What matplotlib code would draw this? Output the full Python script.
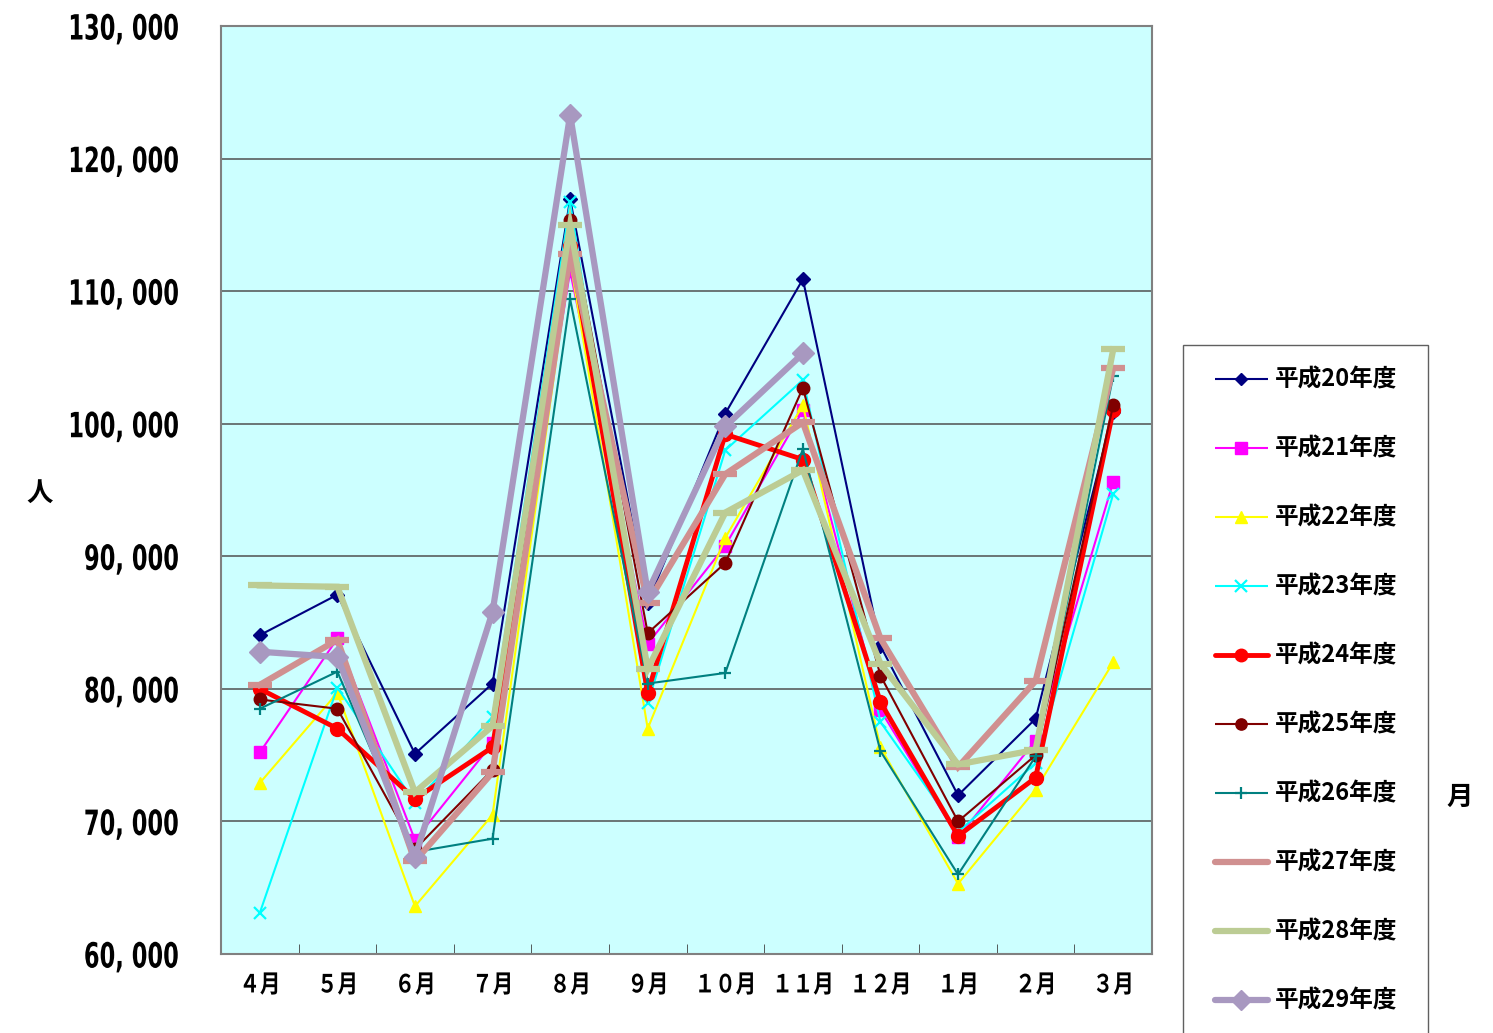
import matplotlib
matplotlib.use("Agg")
import matplotlib.pyplot as plt
from matplotlib.lines import Line2D
from matplotlib.patches import Rectangle
from matplotlib.patheffects import AbstractPathEffect
from matplotlib.transforms import Affine2D
from matplotlib.ticker import FixedLocator, FuncFormatter

months = ["４月", "５月", "６月", "７月", "８月", "９月", "１０月", "１１月", "１２月", "１月", "２月", "３月"]
series_names = ["平成20年度", "平成21年度", "平成22年度", "平成23年度", "平成24年度",
                "平成25年度", "平成26年度", "平成27年度", "平成28年度", "平成29年度"]

h20 = [84050, 87100, 75100, 80400, 116950, 86500, 100770, 110900, 83240, 71970, 77750, 100870]
h21 = [75200, 83800, 68600, 75900, 111500, 83400, 90800, 101000, 78400, 68800, 76100, 95600]
h22 = [72900, 79700, 63600, 70500, 112300, 77000, 91400, 101400, 75600, 65300, 72400, 82000]
h23 = [63100, 80100, 71400, 77900, 116700, 78900, 98000, 103300, 77500, 69200, 74400, 94700]
h24 = [80000, 77000, 71700, 75600, 113400, 79700, 99200, 97300, 79000, 68900, 73300, 101000]
h25 = [79200, 78500, 67900, 73900, 115400, 84200, 89500, 102700, 81000, 70000, 75000, 101400]
h26 = [78500, 81300, 67700, 68700, 109400, 80400, 81200, 98100, 75300, 66000, 74900, 103600]
h27 = [80300, 83700, 67000, 73700, 112800, 86500, 96200, 100100, 83800, 74100, 80600, 104200]
h28 = [87800, 87700, 72200, 77200, 115000, 81500, 93300, 96500, 81900, 74300, 75400, 105600]
h29 = [82800, 82400, 67300, 85800, 123300, 87300, 99800, 105300]

yticks = [60000, 70000, 80000, 90000, 100000, 110000, 120000, 130000]

data = [h20, h21, h22, h23, h24, h25, h26, h27, h28, h29]
styles = [
    dict(color="#000080", marker="D", ms=7, lw=1.5, mew=1),
    dict(color="#FF00FF", marker="s", ms=9, lw=1.5, mew=1),
    dict(color="#FFFF00", marker="^", ms=9, lw=1.5, mew=1),
    dict(color="#00FFFF", marker="x", ms=9, lw=1.5, mew=1.6),
    dict(color="#FF0000", marker="o", ms=10, lw=3.5, mew=1),
    dict(color="#800000", marker="o", ms=9, lw=1.5, mew=1),
    dict(color="#008080", marker="+", ms=9, lw=1.5, mew=1.6),
    dict(color="#D09090", marker="_", ms=17, lw=4.5, mew=4.5),
    dict(color="#BCCC94", marker="_", ms=17, lw=4.5, mew=4.5),
    dict(color="#A898C0", marker="D", ms=11, lw=4.5, mew=1),
]


class Squeeze(AbstractPathEffect):
    """Draw text horizontally condensed, keeping its right edge or centre fixed."""

    def __init__(self, sx, anchor="right"):
        super().__init__()
        self.sx = sx
        self.anchor = anchor

    def draw_path(self, renderer, gc, tpath, affine, rgbFace=None):
        ext = tpath.get_extents()
        ref = ext.x1 if self.anchor == "right" else 0.5 * (ext.x0 + ext.x1)
        t = Affine2D().translate(-ref, 0).scale(self.sx, 1).translate(ref, 0) + affine
        renderer.draw_path(gc, tpath, t, rgbFace)


cjk = ["Noto Sans CJK JP", "DejaVu Sans"]
plt.rcParams["font.family"] = cjk

W, H = 1493, 1033
fig = plt.figure(figsize=(W / 100, H / 100), dpi=100)
fig.patch.set_facecolor("white")
L, R, T, B = 221, 1152, 26, 954
ax = fig.add_axes([L / W, 1 - B / H, (R - L) / W, (B - T) / H])
ax.set_facecolor("#CCFFFF")

x_all = list(range(len(months)))
for vals, st in zip(data, styles):
    xs = x_all[:len(vals)]
    ax.plot(xs, vals, color=st["color"], lw=st["lw"], marker=st["marker"],
            ms=st["ms"], mew=st["mew"], mec=st["color"], mfc=st["color"],
            solid_joinstyle="miter", clip_on=False)

ax.set_xlim(-0.5, len(months) - 0.5)
ax.set_ylim(yticks[0], yticks[-1])
ax.yaxis.set_major_locator(FixedLocator(yticks))
ax.yaxis.set_major_formatter(FuncFormatter(lambda v, p: f"{int(v):,}".replace(",", ", ")))
ax.grid(axis="y", color="#505050", lw=1.1)
ax.set_axisbelow(True)
ax.set_xticks(x_all)
ax.set_xticklabels(months, fontsize=18, fontweight="bold", family=cjk)
ax.set_xticks([i + 0.5 for i in range(len(months) - 1)], minor=True)
ax.tick_params(axis="x", which="major", length=0, pad=14)
ax.tick_params(axis="x", which="minor", direction="in", length=7, color="#404040")
ax.tick_params(axis="y", which="major", direction="in", length=0, pad=30)
for lab in ax.get_xticklabels():
    lab.set_path_effects([Squeeze(0.82, "center")])
for lab in ax.get_yticklabels():
    lab.set_fontfamily("DejaVu Sans")
    lab.set_fontweight("bold")
    lab.set_fontsize(25)
    lab.set_path_effects([Squeeze(0.65, "right")])
for sp in ax.spines.values():
    sp.set_color("#808080")
    sp.set_linewidth(1.5)

fig.text(40 / W, 1 - 493 / H, "人", fontsize=19, fontweight="bold", ha="center", va="center")
fig.text(1460 / W, 1 - 797 / H, "月", fontsize=19, fontweight="bold", ha="center", va="center")

# legend box
fig.patches.append(Rectangle((1183 / W, -0.05), (1428 - 1183) / W, (1 - 345 / H) + 0.05,
                             transform=fig.transFigure, facecolor="white",
                             edgecolor="#606060", lw=1.0, zorder=1))
for i, (name, st) in enumerate(zip(series_names, styles)):
    yc = 1 - (379 + 69 * i) / H
    fig.lines.append(Line2D([1215 / W, 1268 / W], [yc, yc], transform=fig.transFigure,
                            color=st["color"], lw=st["lw"], zorder=2,
                            solid_capstyle="round" if st["lw"] > 2 else "butt"))
    if st["marker"] != "_":
        fig.lines.append(Line2D([1241 / W], [yc], transform=fig.transFigure,
                                color=st["color"], marker=st["marker"], ms=st["ms"] * 0.9,
                                mew=st["mew"], mec=st["color"], mfc=st["color"], lw=0, zorder=3))
    fig.text(1275 / W, yc, name, fontsize=17, fontweight="bold", ha="left", va="center",
             family=cjk, zorder=4)

fig.savefig("out.png", dpi=100)
